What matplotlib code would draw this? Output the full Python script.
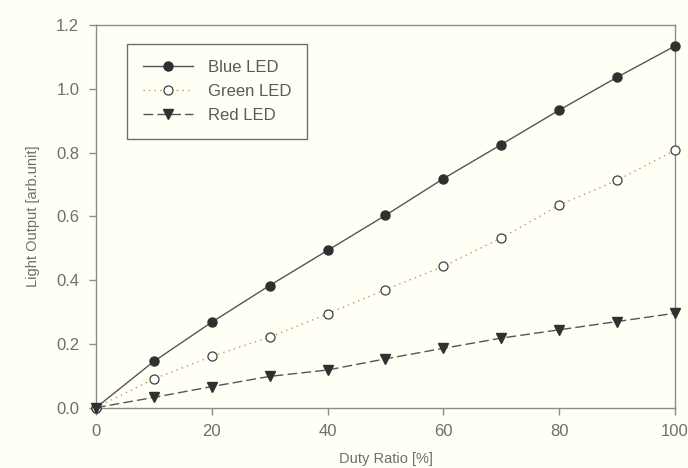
import matplotlib
matplotlib.use("Agg")
import matplotlib.pyplot as plt

# Duty ratio sweep and measured light output per LED colour
duty_ratio = [0, 10, 20, 30, 40, 50, 60, 70, 80, 90, 100]
blue_led = [0.0, 0.145, 0.268, 0.383, 0.493, 0.603, 0.718, 0.825, 0.933, 1.036, 1.134]
green_led = [0.0, 0.090, 0.161, 0.221, 0.294, 0.370, 0.443, 0.532, 0.635, 0.713, 0.807]
red_led = [0.0, 0.032, 0.066, 0.098, 0.118, 0.153, 0.186, 0.218, 0.244, 0.270, 0.296]

x_ticks = [0, 20, 40, 60, 80, 100]
y_ticks = [0.0, 0.2, 0.4, 0.6, 0.8, 1.0, 1.2]

plt.rcParams['font.family'] = ['Liberation Sans', 'DejaVu Sans']

bg = '#fffff6'
txt = '#6e6e6e'
axis_col = '#8c8c8c'

fig = plt.figure(figsize=(6.88, 4.68), dpi=100, facecolor=bg)
ax = fig.add_axes([0.1395, 0.129, 0.8415, 0.8176], facecolor=bg)

ax.plot(duty_ratio, blue_led, linestyle='-', color='#555555', linewidth=1.0,
        marker='o', markersize=6.5, markerfacecolor='#303030', markeredgecolor='#303030',
        label='Blue LED', clip_on=False, zorder=3)
ax.plot(duty_ratio, green_led, linestyle=(0, (1, 3)), color='#b59a6a', linewidth=1.0,
        marker='o', markersize=6.5, markerfacecolor='white', markeredgecolor='#404040',
        markeredgewidth=0.9, label='Green LED', clip_on=False, zorder=3)
ax.plot(duty_ratio, red_led, linestyle=(0, (7, 3)), color='#555555', linewidth=1.0,
        marker='v', markersize=7, markerfacecolor='#303030', markeredgecolor='#303030',
        label='Red LED', clip_on=False, zorder=3)

ax.set_xlim(0, 100)
ax.set_ylim(0, 1.2)
ax.set_xticks(x_ticks)
ax.set_yticks(y_ticks)
ax.set_yticklabels(['%.1f' % v for v in y_ticks])

for sp in ax.spines.values():
    sp.set_color(axis_col)
    sp.set_linewidth(1.0)

ax.tick_params(axis='both', direction='out', length=5, width=1.0, color=axis_col,
               labelcolor=txt, labelsize=12, pad=7)

ax.set_xlabel('Duty Ratio [%]', color=txt, fontsize=10.5, labelpad=9)
ax.set_ylabel('Light Output [arb.unit]', color=txt, fontsize=10.5, labelpad=12)

leg = ax.legend(loc='upper left', bbox_to_anchor=(0.0535, 0.95), borderaxespad=0,
                fontsize=12, handlelength=3.0, handletextpad=0.9, labelspacing=0.55,
                borderpad=0.95, fancybox=False, framealpha=1)
leg.get_frame().set_edgecolor('#707070')
leg.get_frame().set_facecolor(bg)
leg.get_frame().set_linewidth(1.0)
for t in leg.get_texts():
    t.set_color('#5a5a5a')

fig.savefig('out.png', dpi=100, facecolor=bg)
